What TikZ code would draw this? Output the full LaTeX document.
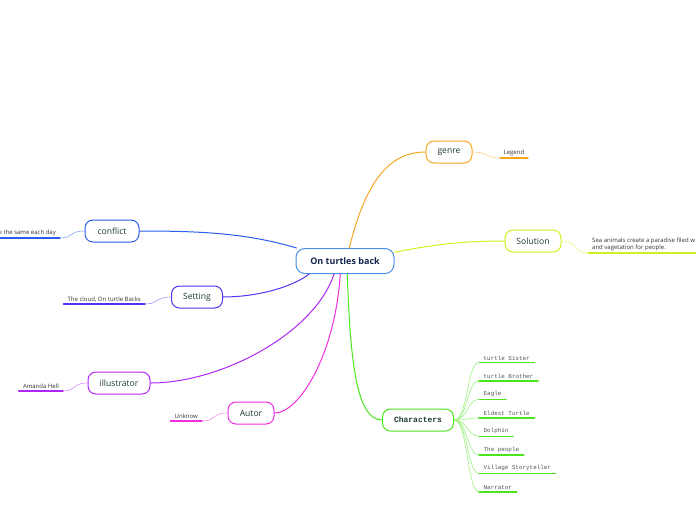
\documentclass[tikz,border=0pt]{standalone}
\usepackage{fontspec}
\setmainfont{Open Sans}
\newfontfamily\charfont{Liberation Mono}
\usetikzlibrary{positioning}
\definecolor{rootborder}{HTML}{4A90E2}
\definecolor{roottext}{HTML}{14264D}
\definecolor{topictext}{HTML}{1E3B38}
\definecolor{leaftext}{HTML}{333333}
\definecolor{charleaftext}{HTML}{555555}
\definecolor{genreorange}{HTML}{F5A623}
\definecolor{solutionlime}{HTML}{D2F01E}
\definecolor{conflictblue}{HTML}{2A5CF0}
\definecolor{settingviolet}{HTML}{5A2EF0}
\definecolor{illupurple}{HTML}{B026F5}
\definecolor{autormagenta}{HTML}{F02EE0}
\definecolor{chargreen}{HTML}{4BE51C}

\begin{document}
\begin{tikzpicture}[x=1pt, y=-1pt, line cap=round,
    rootbox/.style={draw=rootborder, line width=1pt, rounded corners=9pt,
      fill=white, text=roottext, font=\fontsize{9}{10}\selectfont\bfseries,
      minimum width=98pt, minimum height=25pt},
    topic/.style={draw=#1, line width=1pt, rounded corners=8pt, fill=white,
      text=topictext, font=\fontsize{8.6}{9.5}\selectfont,
      minimum height=22pt, inner xsep=2pt},
    leaf/.style={text=leaftext, font=\fontsize{6}{7.2}\selectfont,
      inner xsep=4pt, inner ysep=2pt},
    charleaf/.style={text=charleaftext, font=\charfont\fontsize{5.9}{7}\selectfont,
      inner xsep=4.5pt, inner ysep=2pt, anchor=south west},
    branch/.style={draw=#1, line width=1pt},
    twig/.style={draw=#1!55, line width=0.6pt},
    underline/.style={draw=#1, line width=1.6pt}]
  \useasboundingbox (0,0) rectangle (696,520);

  % central topic and main branches
  \node[rootbox] (root) at (345,261) {On turtles back};
  \node[topic=genreorange, minimum width=46pt] (genre) at (449,152) {genre};
  \node[topic=solutionlime, minimum width=56pt] (solution) at (533,241) {Solution};
  \node[topic=conflictblue, minimum width=54pt] (conflict) at (112,231) {conflict};
  \node[topic=settingviolet, minimum width=51pt] (setting) at (197,297) {Setting};
  \node[topic=illupurple, minimum width=62pt] (illustrator) at (119,383) {illustrator};
  \node[topic=autormagenta, minimum width=46pt] (autor) at (251,413) {Autor};
  \node[topic=chargreen, minimum width=71pt,
    font=\charfont\fontsize{8}{9}\selectfont\bfseries] (characters) at (418,420) {Characters};

  \draw[branch=genreorange] (root.72) .. controls +(15,-60) and +(-40,0) .. (genre.west);
  \draw[branch=solutionlime] (root.10) .. controls +(40,-8) and +(-40,0) .. (solution.west);
  \draw[branch=conflictblue] (root.165) .. controls +(-50,-15) and +(60,0) .. (conflict.east);
  \draw[branch=settingviolet] (root.200) .. controls +(-20,15) and +(30,0) .. (setting.east);
  \draw[branch=illupurple] (root.230) .. controls +(-20,60) and +(70,0) .. (illustrator.east);
  \draw[branch=autormagenta] (root.250) .. controls +(-5,80) and +(25,0) .. (autor.east);
  \draw[branch=chargreen] (root.280) .. controls +(3,90) and +(-25,0) .. (characters.west);

  % leaves
  \node[leaf, anchor=south west, inner xsep=3.5pt] (legend) at (500,158) {Legend};
  \draw[underline=genreorange] (legend.south west) -- (legend.south east);
  \draw[twig=genreorange] (genre.east) .. controls +(16,0) and +(-14,0) .. (legend.south west);

  \node[leaf, anchor=south west, align=left] (paradise) at (588,253)
    {Sea animals create a paradise filed w\\and vagetation for people.};
  \draw[underline=solutionlime] (paradise.south west) -- ++(112,0);
  \draw[twig=solutionlime] (solution.east) .. controls +(16,0) and +(-14,0) .. (paradise.south west);

  \node[leaf, anchor=south east] (sameday) at (60,238) {e the same each day};
  \draw[underline=conflictblue] (sameday.south east) -- ++(-64,0);
  \draw[twig=conflictblue] (conflict.west) .. controls +(-16,0) and +(14,0) .. (sameday.south east);

  \node[leaf, anchor=south east] (cloud) at (145,304) {The cloud, On turtle Backs};
  \draw[underline=settingviolet] (cloud.south east) -- (cloud.south west);
  \draw[twig=settingviolet] (setting.west) .. controls +(-16,0) and +(14,0) .. (cloud.south east);

  \node[leaf, anchor=south east] (amanda) at (63,391) {Amanda Hell};
  \draw[underline=illupurple] (amanda.south east) -- (amanda.south west);
  \draw[twig=illupurple] (illustrator.west) .. controls +(-16,0) and +(14,0) .. (amanda.south east);

  \node[leaf, anchor=south east] (unknow) at (202,421) {Unknow};
  \draw[underline=autormagenta] (unknow.south east) -- (unknow.south west);
  \draw[twig=autormagenta] (autor.west) .. controls +(-16,0) and +(14,0) .. (unknow.south east);

  % characters
  \node[charleaf] (sister) at (479,362.3) {turtle Sister};
  \node[charleaf] (brother) at (479,380.7) {turtle Brother};
  \node[charleaf] (eagle) at (479,399.3) {Eagle};
  \node[charleaf] (eldest) at (479,418) {Eldest Turtle};
  \node[charleaf] (dolphin) at (479,436.3) {Dolphin};
  \node[charleaf] (people) at (479,455) {The people};
  \node[charleaf] (storyteller) at (479,473.3) {Village Storyteller};
  \node[charleaf] (narrator) at (479,492) {Narrator};
  \draw[underline=chargreen] (sister.south west) -- (sister.south east);
  \draw[underline=chargreen] (brother.south west) -- (brother.south east);
  \draw[underline=chargreen] (eagle.south west) -- (eagle.south east);
  \draw[underline=chargreen] (eldest.south west) -- (eldest.south east);
  \draw[underline=chargreen] (dolphin.south west) -- (dolphin.south east);
  \draw[underline=chargreen] (people.south west) -- (people.south east);
  \draw[underline=chargreen] (storyteller.south west) -- (storyteller.south east);
  \draw[underline=chargreen] (narrator.south west) -- (narrator.south east);
  \draw[twig=chargreen] (characters.east) .. controls +(14,0) and +(-12,0) .. (sister.south west);
  \draw[twig=chargreen] (characters.east) .. controls +(14,0) and +(-12,0) .. (brother.south west);
  \draw[twig=chargreen] (characters.east) .. controls +(14,0) and +(-12,0) .. (eagle.south west);
  \draw[twig=chargreen] (characters.east) .. controls +(14,0) and +(-12,0) .. (eldest.south west);
  \draw[twig=chargreen] (characters.east) .. controls +(14,0) and +(-12,0) .. (dolphin.south west);
  \draw[twig=chargreen] (characters.east) .. controls +(14,0) and +(-12,0) .. (people.south west);
  \draw[twig=chargreen] (characters.east) .. controls +(14,0) and +(-12,0) .. (storyteller.south west);
  \draw[twig=chargreen] (characters.east) .. controls +(14,0) and +(-12,0) .. (narrator.south west);
\end{tikzpicture}
\end{document}
